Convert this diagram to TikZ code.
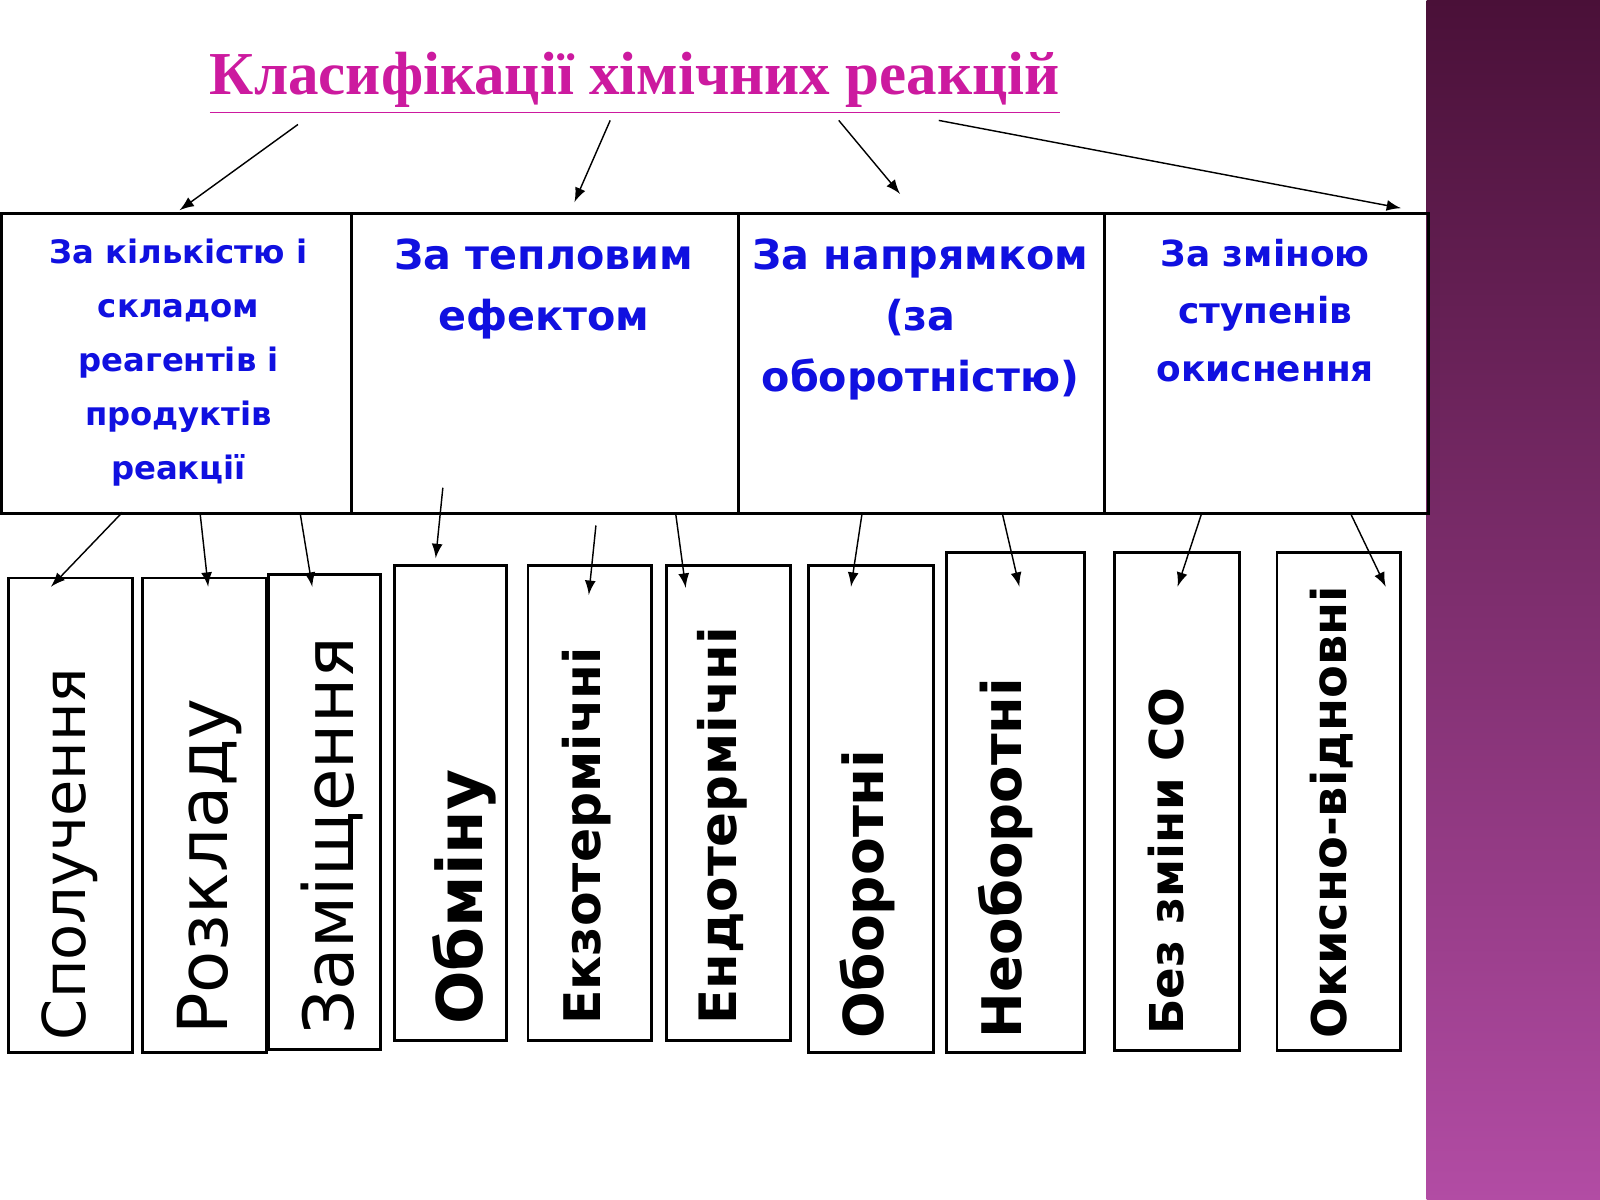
\documentclass[tikz,border=0pt]{standalone}
\usepackage{fontspec}
\setmainfont{DejaVu Sans}
\newfontfamily\titlefont{Liberation Serif}
\usetikzlibrary{positioning}
\definecolor{titlemag}{HTML}{CC1A9F}
\definecolor{catblue}{HTML}{1010E0}
\definecolor{stripTop}{HTML}{4A1038}
\definecolor{stripBot}{HTML}{B24CA4}
\newcommand{\vlabel}[2]{\resizebox{\dimexpr 0.01cm * #1\relax}{!}{#2}}

\begin{document}
\begin{tikzpicture}[x = 0.01cm, y = -0.01cm, > = latex]

	% Frame and side strip

	\useasboundingbox (0, 0) rectangle (1568, 1176);
	\fill [white] (0, 0) rectangle (1568, 1176);
	\shade [top color = stripTop, bottom color = stripBot] (1398, 0) rectangle (1568, 1176);

	\tikzset{
		catbox/.style = {draw, thick, anchor = north west, inner sep = 0pt},
		cattext/.style = {text = catblue, font = \bfseries, align = center, anchor = north},
		kindbox/.style = {draw, thick, anchor = north west, inner sep = 0pt},
		kindtext/.style = {rotate = 90, anchor = west, inner sep = 0pt},
		link/.style = {->, thin}
	}

	% Title

	\node (title) at (622, 82) {\titlefont\fontsize{17}{20}\selectfont\bfseries\color{titlemag}\underline{Класифікації хімічних реакцій}};

	% Categories

	\node [catbox, minimum width = 3.43cm, minimum height = 2.94cm] (cat1) at (0, 208) {};
	\node [catbox, minimum width = 3.79cm, minimum height = 2.94cm] (cat2) at (343, 208) {};
	\node [catbox, minimum width = 3.59cm, minimum height = 2.94cm] (cat3) at (722, 208) {};
	\node [catbox, minimum width = 3.17cm, minimum height = 2.94cm] (cat4) at (1081, 208) {};

	\node [cattext, font = \bfseries\fontsize{9}{15}\selectfont] at (175, 222) {За кількістю і\\складом\\реагентів і\\продуктів\\реакції};
	\node [cattext, font = \bfseries\fontsize{11.5}{17}\selectfont] at (533, 222) {За тепловим\\ефектом};
	\node [cattext, font = \bfseries\fontsize{11.5}{17}\selectfont] at (902, 222) {За напрямком\\(за\\оборотністю)};
	\node [cattext, font = \bfseries\fontsize{10}{16}\selectfont] at (1240, 222) {За зміною\\ступенів\\окиснення};

	% Kinds

	\node [kindbox, minimum width = 1.21cm, minimum height = 4.65cm] (k1) at (7, 565) {};
	\node [kindbox, minimum width = 1.22cm, minimum height = 4.65cm] (k2) at (138, 565) {};
	\node [kindbox, minimum width = 1.09cm, minimum height = 4.65cm] (k3) at (262, 562) {};
	\node [kindbox, minimum width = 1.10cm, minimum height = 4.65cm] (k4) at (385, 553) {};
	\node [kindbox, minimum width = 1.21cm, minimum height = 4.65cm] (k5) at (516, 553) {};
	\node [kindbox, minimum width = 1.21cm, minimum height = 4.65cm] (k6) at (652, 553) {};
	\node [kindbox, minimum width = 1.22cm, minimum height = 4.77cm] (k7) at (791, 553) {};
	\node [kindbox, minimum width = 1.35cm, minimum height = 4.90cm] (k8) at (926, 540) {};
	\node [kindbox, minimum width = 1.22cm, minimum height = 4.88cm] (k9) at (1091, 540) {};
	\node [kindbox, minimum width = 1.21cm, minimum height = 4.88cm] (k10) at (1250, 540) {};

	\node [kindtext] at (68, 1020) {\vlabel{365}{Сполучення}};
	\node [kindtext] at (205, 1015) {\vlabel{330}{Розкладу}};
	\node [kindtext] at (325, 1015) {\vlabel{390}{Заміщення}};
	\node [kindtext] at (455, 1005) {\vlabel{250}{\bfseries Обміну}};
	\node [kindtext] at (575, 1005) {\vlabel{370}{\bfseries Екзотермічні}};
	\node [kindtext] at (708, 1005) {\vlabel{390}{\bfseries Ендотермічні}};
	\node [kindtext] at (850, 1018) {\vlabel{283}{\bfseries Оборотні}};
	\node [kindtext] at (985, 1018) {\vlabel{353}{\bfseries Необоротні}};
	\node [kindtext] at (1143, 1015) {\vlabel{340}{\bfseries Без зміни СО}};
	\node [kindtext] at (1305, 1018) {\vlabel{443}{\bfseries Окисно-відновні}};

	% Arrows from title

	\draw [link] (292, 122) -- (176, 206);
	\draw [link] (598, 118) -- (563, 198);
	\draw [link] (822, 118) -- (882, 190);
	\draw [link] (920, 118) -- (1373, 204);

	% Arrows to kinds

	\draw [link] (120, 502) -- (50, 575);
	\draw [link] (196, 502) -- (204, 575);
	\draw [link] (294, 502) -- (306, 575);
	\draw [link] (434, 478) -- (427, 547);
	\draw [link] (584, 515) -- (577, 583);
	\draw [link] (662, 502) -- (672, 576);
	\draw [link] (845, 502) -- (834, 575);
	\draw [link] (982, 502) -- (999, 575);
	\draw [link] (1178, 502) -- (1154, 575);
	\draw [link] (1323, 502) -- (1358, 575);

\end{tikzpicture}
\end{document}
